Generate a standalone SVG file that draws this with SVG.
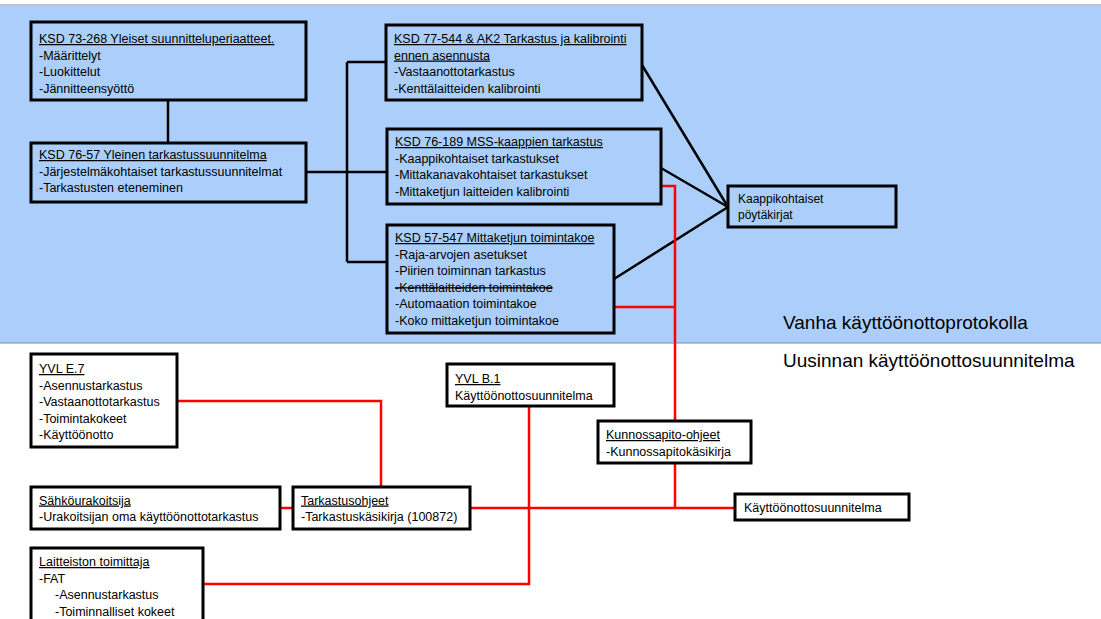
<svg xmlns="http://www.w3.org/2000/svg" width="1101" height="619" viewBox="0 0 1101 619">
<style>
.box{fill:none;stroke:#000;stroke-width:3}
.t{font-family:"Liberation Sans",Arial,sans-serif;font-size:12.5px;fill:#000}
.u{text-decoration:underline}
.s{text-decoration:line-through}
.big{font-family:"Liberation Sans",Arial,sans-serif;font-size:19px;fill:#000}
.bk{fill:none;stroke:#000;stroke-width:2.5}
.rd{fill:none;stroke:#ff0000;stroke-width:2.5}
</style>
<rect x="0" y="0" width="1101" height="619" fill="#ffffff"/>
<rect x="0" y="6" width="1101" height="337" fill="#abcffa"/>
<line x1="0" y1="5" x2="1101" y2="5" stroke="#a7b0b8" stroke-width="1.5"/>
<line x1="0" y1="343" x2="1101" y2="343" stroke="#6f8fb5" stroke-width="1.2"/>
<text class="big" x="783" y="329">Vanha käyttöönottoprotokolla</text>
<text class="big" x="783" y="367">Uusinnan käyttöönottosuunnitelma</text>

<g id="connectors">
<path class="bk" d="M168,100 V143"/>
<path class="bk" d="M306,172 H387"/>
<path class="bk" d="M347,62 V262"/>
<path class="bk" d="M347,62 H386"/>
<path class="bk" d="M347,262 H387"/>
<path class="bk" d="M642,65 L728,207"/>
<path class="bk" d="M661,168 L728,207"/>
<path class="bk" d="M614,279 L728,207"/>
<path class="rd" d="M661,186 H675 V421"/>
<path class="rd" d="M614,307 H675"/>
<path class="rd" d="M675,463 V508"/>
<path class="rd" d="M470,508 H735"/>
<path class="rd" d="M280,508 H293"/>
<path class="rd" d="M177,401 H381 V487"/>
<path class="rd" d="M203,584 H529 V406"/>
</g>

<g id="ksd73">
<rect class="box" x="31" y="22" width="275" height="78"/>
<text class="t u" x="39" y="43">KSD 73-268 Yleiset suunnitteluperiaatteet.</text>
<text class="t" x="39" y="59.5">-Määrittelyt</text>
<text class="t" x="39" y="76">-Luokittelut</text>
<text class="t" x="39" y="92.5">-Jännitteensyöttö</text>
</g>
<g id="ksd76-57">
<rect class="box" x="31" y="143" width="275" height="59"/>
<text class="t u" x="39" y="159">KSD 76-57 Yleinen tarkastussuunnitelma</text>
<text class="t" x="39" y="176">-Järjestelmäkohtaiset tarkastussuunnitelmat</text>
<text class="t" x="39" y="192">-Tarkastusten eteneminen</text>
</g>
<g id="ksd77">
<rect class="box" x="386" y="25" width="256" height="75"/>
<text class="t u" x="394" y="43">KSD 77-544 &amp; AK2 Tarkastus ja kalibrointi</text>
<text class="t u" x="394" y="59.5">ennen asennusta</text>
<text class="t" x="394" y="76">-Vastaanottotarkastus</text>
<text class="t" x="394" y="92.5">-Kenttälaitteiden kalibrointi</text>
</g>
<g id="ksd76-189">
<rect class="box" x="387" y="129" width="274" height="75"/>
<text class="t u" x="395" y="146">KSD 76-189 MSS-kaappien tarkastus</text>
<text class="t" x="395" y="162.5">-Kaappikohtaiset tarkastukset</text>
<text class="t" x="395" y="179">-Mittakanavakohtaiset tarkastukset</text>
<text class="t" x="395" y="195.5">-Mittaketjun laitteiden kalibrointi</text>
</g>
<g id="ksd57">
<rect class="box" x="387" y="225" width="227" height="108"/>
<text class="t u" x="395" y="242">KSD 57-547 Mittaketjun toimintakoe</text>
<text class="t" x="395" y="258.5">-Raja-arvojen asetukset</text>
<text class="t" x="395" y="275">-Piirien toiminnan tarkastus</text>
<text class="t s" x="395" y="291.5">-Kenttälaitteiden toimintakoe</text>
<text class="t" x="395" y="308">-Automaation toimintakoe</text>
<text class="t" x="395" y="324.5">-Koko mittaketjun toimintakoe</text>
</g>
<g id="poytakirjat">
<rect class="box" x="728" y="186" width="168" height="41"/>
<text class="t" x="738" y="203" style="font-size:12px">Kaappikohtaiset</text>
<text class="t" x="738" y="219" style="font-size:12px">pöytäkirjat</text>
</g>
<g id="yvle7">
<rect class="box" x="31" y="354" width="146" height="93"/>
<text class="t u" x="39" y="373">YVL E.7</text>
<text class="t" x="39" y="389.5">-Asennustarkastus</text>
<text class="t" x="39" y="406">-Vastaanottotarkastus</text>
<text class="t" x="39" y="422.5">-Toimintakokeet</text>
<text class="t" x="39" y="439">-Käyttöönotto</text>
</g>
<g id="yvlb1">
<rect class="box" x="447" y="364" width="167" height="42"/>
<text class="t u" x="455" y="383">YVL B.1</text>
<text class="t" x="455" y="399.5">Käyttöönottosuunnitelma</text>
</g>
<g id="kunnossapito">
<rect class="box" x="598" y="421" width="153" height="42"/>
<text class="t u" x="606" y="439">Kunnossapito-ohjeet</text>
<text class="t" x="606" y="455.5">-Kunnossapitokäsikirja</text>
</g>
<g id="sahkourakoitsija">
<rect class="box" x="31" y="487" width="249" height="42"/>
<text class="t u" x="39" y="504.5">Sähköurakoitsija</text>
<text class="t" x="39" y="521">-Urakoitsijan oma käyttöönottotarkastus</text>
</g>
<g id="tarkastusohjeet">
<rect class="box" x="293" y="487" width="177" height="42"/>
<text class="t u" x="301" y="504.5">Tarkastusohjeet</text>
<text class="t" x="301" y="521">-Tarkastuskäsikirja (100872)</text>
</g>
<g id="kayttoonottosuunnitelma">
<rect class="box" x="735" y="494" width="174" height="26"/>
<text class="t" x="744" y="512">Käyttöönottosuunnitelma</text>
</g>
<g id="laitteiston">
<rect class="box" x="31" y="548" width="172" height="80"/>
<text class="t u" x="39" y="566">Laitteiston toimittaja</text>
<text class="t" x="39" y="582.5">-FAT</text>
<text class="t" x="55" y="599">-Asennustarkastus</text>
<text class="t" x="55" y="615.5">-Toiminnalliset kokeet</text>
</g>
</svg>
